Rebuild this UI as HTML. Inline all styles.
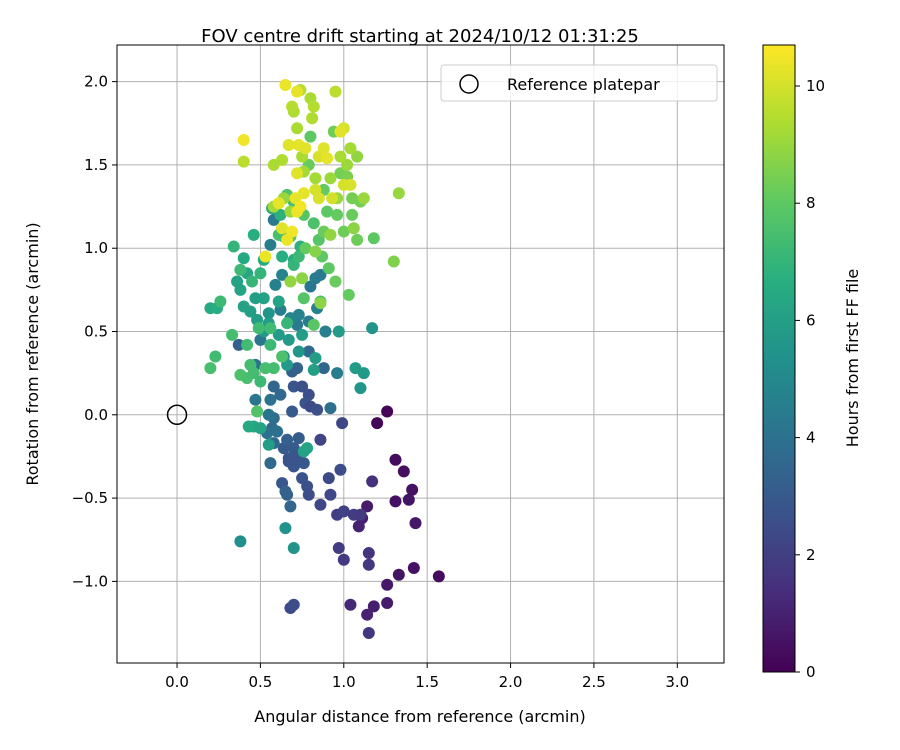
<!DOCTYPE html>
<html><head><meta charset="utf-8"><style>
body{margin:0;background:#fff;}
svg{display:block;font-family:"DejaVu Sans","Liberation Sans",sans-serif;}
</style></head><body>
<svg id="chart" width="900" height="750" xmlns="http://www.w3.org/2000/svg">
<rect width="900" height="750" fill="#fff"/>
<text x="420" y="42" font-size="18" text-anchor="middle">FOV centre drift starting at 2024/10/12 01:31:25</text>
<g id="grid"></g>
<g id="pts"></g>
<rect x="117" y="45" width="607" height="618" fill="none" stroke="#000" stroke-width="1"/>
<g id="ticks"></g>
<text x="420" y="722" font-size="16" text-anchor="middle">Angular distance from reference (arcmin)</text>
<text transform="translate(38,354) rotate(-90)" font-size="16" text-anchor="middle">Rotation from reference (arcmin)</text>
<g>
<rect x="441" y="65" width="276" height="36" rx="3" fill="#fff" fill-opacity="0.8" stroke="#ccc"/>
<circle cx="469" cy="84" r="9" fill="none" stroke="#000" stroke-width="1.5"/>
<text x="507" y="90" font-size="16">Reference platepar</text>
</g>
<defs><linearGradient id="vir" x1="0" y1="1" x2="0" y2="0">
<stop offset="0" stop-color="#440154"/><stop offset="0.125" stop-color="#472d7b"/><stop offset="0.25" stop-color="#3b528b"/><stop offset="0.375" stop-color="#2c728e"/><stop offset="0.5" stop-color="#21918c"/><stop offset="0.625" stop-color="#28ae80"/><stop offset="0.75" stop-color="#5ec962"/><stop offset="0.875" stop-color="#addc30"/><stop offset="1" stop-color="#fde725"/>
</linearGradient></defs>
<rect x="763" y="45" width="32" height="627" fill="url(#vir)" stroke="#000"/>
<g id="cbticks"></g>
<text transform="translate(858,358) rotate(-90)" font-size="16" text-anchor="middle">Hours from first FF file</text>
</svg>
<script>
const xTicks=[0.0,0.5,1.0,1.5,2.0,2.5,3.0];
const yTicks=[-1.0,-0.5,0.0,0.5,1.0,1.5,2.0];
const cTicks=[0,2,4,6,8,10];
const hoursMax=10.7;
const xs=[1.26,1.2,1.31,1.36,1.41,1.39,1.31,1.43,1.14,1.11,1.09,1.33,1.26,1.42,1.57,1.26,1.18,1.14,1.04,
1.15,1.15,1.17,1.0,0.97,0.96,1.0,1.06,1.1,1.15,0.92,0.91,0.98,0.86,0.78,0.79,0.75,0.7,0.67,0.7,0.72,0.73,0.64,0.63,0.66,0.67,0.69,0.7,0.75,0.79,0.77,0.8,0.84,0.86,0.76,0.99,0.68,0.7,
0.88,0.79,0.72,0.69,0.62,0.58,0.57,0.58,0.58,0.56,0.65,0.66,0.68,0.6,0.56,0.55,0.54,0.47,0.37,0.47,0.5,0.72,0.79,0.8,0.83,0.86,0.84,0.89,0.73,0.68,0.62,0.92,0.96,0.58,0.56,0.59,0.63,
0.38,0.7,0.65,0.55,0.52,0.55,0.48,0.44,0.4,0.38,0.36,0.42,0.47,0.52,0.61,0.67,0.73,0.64,0.61,0.66,0.75,0.83,0.82,0.76,0.78,1.07,1.12,1.1,1.17,0.97,0.46,0.43,0.5,0.55,0.2,0.24,0.4,0.52,0.63,0.7,0.74,0.64,0.57,0.46,0.62,
0.2,0.23,0.26,0.33,0.34,0.38,0.42,0.46,0.48,0.49,0.53,0.56,0.58,0.56,0.63,0.66,0.7,0.73,0.76,0.82,0.86,0.87,0.85,0.82,0.77,0.68,0.61,0.66,0.7,0.76,0.8,0.79,0.88,0.9,0.96,1.0,1.05,1.1,1.08,1.18,1.03,0.95,0.91,0.42,0.44,0.5,0.45,0.5,0.38,0.94,0.98,1.02,1.05,0.88,
0.86,0.83,0.92,1.06,1.3,1.33,1.08,1.02,1.04,0.96,0.92,0.83,0.75,0.76,0.68,0.64,0.72,0.7,0.74,0.8,0.81,0.82,0.95,0.63,0.58,0.4,0.69,0.68,0.75,0.58,1.12,0.98,
0.4,0.65,0.72,0.67,0.73,0.77,0.85,0.88,0.9,0.83,0.85,0.72,0.71,0.72,0.74,0.61,0.63,0.66,0.69,0.53,1.0,1.0,1.04,0.98,0.93,0.76];
const ys=[0.02,-0.05,-0.27,-0.34,-0.45,-0.51,-0.52,-0.65,-0.55,-0.62,-0.67,-0.96,-1.02,-0.92,-0.97,-1.13,-1.15,-1.2,-1.14,
-0.83,-0.9,-0.4,-0.87,-0.8,-0.6,-0.58,-0.6,-0.6,-1.31,-0.48,-0.38,-0.33,-0.54,-0.43,-0.48,-0.38,-0.31,-0.26,-0.2,-0.25,-0.14,-0.2,-0.41,-0.15,-0.28,0.02,0.17,0.17,0.12,0.07,0.05,0.03,-0.15,-0.29,-0.05,-1.16,-1.14,
0.28,0.38,0.28,0.26,0.12,0.17,-0.08,-0.02,-0.17,-0.29,-0.46,-0.48,-0.55,-0.1,0.09,0.0,-0.11,0.09,0.42,0.3,0.45,0.54,0.56,0.77,0.82,0.84,0.64,0.5,0.6,0.58,0.63,0.04,0.25,1.17,1.02,0.78,0.84,
-0.76,-0.8,-0.68,0.61,0.5,0.55,0.57,0.62,0.65,0.75,0.8,0.85,0.7,0.7,0.68,0.45,0.38,0.35,0.48,0.3,0.48,0.34,0.27,-0.22,-0.2,0.28,0.25,0.16,0.52,0.5,-0.07,-0.07,-0.08,-0.18,0.64,0.64,0.94,0.93,0.95,0.93,1.01,1.07,1.24,1.08,1.2,
0.28,0.35,0.68,0.48,1.01,0.24,0.22,0.25,0.02,0.52,0.28,0.42,0.28,0.52,0.35,0.55,0.9,0.95,0.7,0.54,0.68,0.95,1.05,1.15,1.0,1.07,1.08,1.32,1.28,1.2,1.67,1.5,1.35,1.22,1.2,1.1,1.2,1.28,1.05,1.06,0.72,0.8,0.88,0.42,0.3,0.2,0.8,0.85,0.87,1.7,1.45,1.43,1.3,1.1,
0.67,0.98,1.08,1.12,0.92,1.33,1.55,1.5,1.6,1.3,1.42,1.42,1.55,1.46,1.22,1.3,1.72,1.82,1.95,1.9,1.78,1.85,1.94,1.53,1.5,1.52,1.85,0.8,0.82,1.25,1.3,1.55,
1.65,1.98,1.94,1.62,1.62,1.6,1.55,1.6,1.54,1.35,1.3,1.45,1.3,1.22,1.25,1.27,1.12,1.05,1.1,0.95,1.72,1.38,1.38,1.7,1.3,1.33];
const hrs=[0.1,0.2,0.3,0.4,0.5,0.6,0.5,0.7,0.8,0.9,1.0,0.6,0.7,0.5,0.3,0.8,0.9,1.0,1.2,
1.6,1.7,1.5,1.8,1.9,2.0,2.1,1.9,1.8,1.7,2.3,2.4,2.5,2.3,2.6,2.5,2.7,2.8,2.9,3.0,2.8,3.1,3.0,2.9,3.2,2.7,3.0,2.8,2.6,2.5,2.7,2.4,2.6,2.2,2.9,2.3,2.4,2.5,
3.5,3.6,3.4,3.3,3.6,3.5,3.7,3.8,3.6,3.7,3.4,3.3,3.5,3.9,4.0,4.1,4.0,4.2,3.2,4.0,4.2,4.3,4.4,4.2,4.5,4.3,4.6,4.6,4.7,4.8,4.6,3.9,4.5,4.3,4.5,4.6,4.7,
5.3,5.5,5.4,5.6,5.7,5.8,5.9,6.0,6.1,6.2,6.1,6.3,6.0,6.1,6.2,5.8,5.6,5.5,5.8,5.7,5.9,5.9,6.0,6.1,6.2,5.8,5.7,5.6,5.5,5.8,6.3,6.4,6.2,6.0,6.5,6.6,6.4,6.5,6.6,6.7,6.8,6.6,6.5,6.7,6.8,
7.5,7.3,7.2,7.4,7.0,7.6,7.5,7.4,7.7,7.3,7.5,7.2,7.4,7.3,7.6,7.1,7.0,7.2,7.8,7.9,7.6,8.0,7.8,7.6,8.1,7.9,7.5,7.7,7.4,7.8,8.0,8.2,8.1,8.0,8.1,8.3,8.2,8.4,8.3,8.0,8.1,8.2,8.0,7.3,7.4,7.2,7.1,7.0,7.2,8.3,8.4,8.5,8.4,8.2,
8.8,8.7,8.9,8.8,8.6,9.0,8.9,9.1,9.2,9.0,9.1,9.2,9.3,9.2,9.1,9.0,9.3,9.4,9.5,9.3,9.4,9.5,9.6,9.4,9.3,9.6,9.5,8.9,8.8,9.2,9.0,9.3,
10.5,10.4,10.3,10.2,10.3,10.2,10.1,10.2,10.3,10.0,10.1,10.2,10.3,10.4,10.5,10.3,10.2,10.4,10.5,10.4,10.1,10.0,10.1,10.2,10.0,10.3];
const NS="http://www.w3.org/2000/svg";
const X0=117,X1=724,Y0=663,Y1=45;
const xMin=-0.36,xMax=3.28,yMin=-1.49,yMax=2.22;
function sx(v){return X0+(v-xMin)/(xMax-xMin)*(X1-X0);}
function sy(v){return Y0-(v-yMin)/(yMax-yMin)*(Y0-Y1);}
function cy(h){return 672-h/hoursMax*627;}
const vir=[[68,1,84],[71,45,123],[59,82,139],[44,114,142],[33,145,140],[40,174,128],[94,201,98],[173,220,48],[253,231,37]];
function color(h){let t=Math.max(0,Math.min(1,h/hoursMax))*8;let i=Math.min(7,Math.floor(t)),f=t-i;
const a=vir[i],b=vir[i+1];return `rgb(${a.map((c,k)=>Math.round(c+(b[k]-c)*f)).join(',')})`;}
function mk(tag,attrs,parent,txt){const e=document.createElementNS(NS,tag);for(const k in attrs)e.setAttribute(k,attrs[k]);if(txt!==undefined)e.textContent=txt;parent.appendChild(e);return e;}
const grid=document.getElementById('grid'),ticks=document.getElementById('ticks'),pts=document.getElementById('pts'),cb=document.getElementById('cbticks');
xTicks.forEach(v=>{const x=sx(v);
const l=mk('line',{x1:x,x2:x,y1:Y1,y2:Y0,stroke:'#b0b0b0','stroke-width':1},grid);


mk('line',{x1:x,x2:x,y1:Y0,y2:Y0+5,stroke:'#000'},ticks);
const t=mk('text',{x:x,y:Y0+24,'font-size':15,'text-anchor':'middle'},ticks,v.toFixed(1));

});
yTicks.forEach(v=>{const y=sy(v);
const l=mk('line',{x1:X0,x2:X1,y1:y,y2:y,stroke:'#b0b0b0','stroke-width':1},grid);


mk('line',{x1:X0-5,x2:X0,y1:y,y2:y,stroke:'#000'},ticks);
const t=mk('text',{x:X0-9,y:y+5,'font-size':15,'text-anchor':'end'},ticks,(v<0?'\u2212':'')+Math.abs(v).toFixed(1));

});
for(let i=0;i<xs.length;i++){
const c=mk('circle',{cx:sx(xs[i]),cy:sy(ys[i]),r:6,fill:color(hrs[i])},pts);

}
const ref=mk('circle',{cx:sx(0),cy:sy(0),r:9.5,fill:'none',stroke:'#000','stroke-width':1.5},pts);


cTicks.forEach(v=>{const y=cy(v);
mk('line',{x1:795,x2:800,y1:y,y2:y,stroke:'#000'},cb);
const t=mk('text',{x:806,y:y+5,'font-size':15},cb,String(v));

});
</script>
</body></html>
